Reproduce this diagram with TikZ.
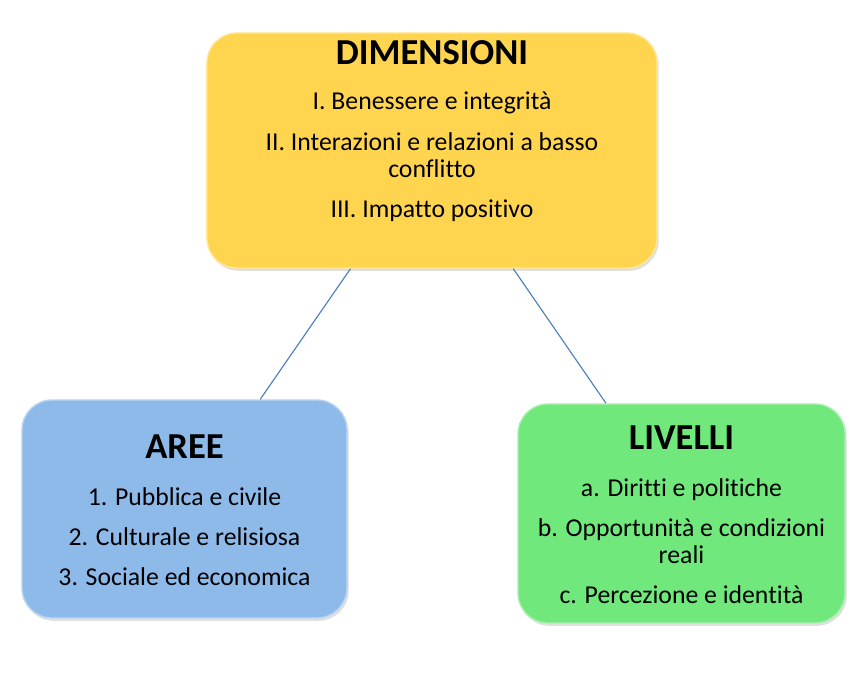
\documentclass[tikz,border=0pt]{standalone}
\usepackage{fontspec}
\setmainfont[Ligatures=NoCommon]{Carlito}
\usetikzlibrary{shadows}
\definecolor{giallo}{RGB}{255,213,80}
\definecolor{azzurro}{RGB}{142,186,234}
\definecolor{verde}{RGB}{112,232,124}
\definecolor{linea}{RGB}{74,126,187}
\tikzset{
	riquadro/.style={rounded corners=0.75cm, inner sep=0pt, line width=1pt, drop shadow={opacity=0.25, shadow xshift=0.4mm, shadow yshift=-0.7mm}},
	titolo/.style={font=\fontsize{26}{30}\selectfont\bfseries, inner sep=0pt},
	voci/.style={font=\fontsize{18.3}{19.5}\selectfont, align=center, inner sep=0pt}
}
\begin{document}
\begin{tikzpicture}[x=0.025cm, y=-0.025cm]
	\useasboundingbox (0,0) rectangle (859,683);
	\node[riquadro, fill=giallo, draw=giallo!60!white, minimum width=11.25cm, minimum height=5.875cm](dim) at (432,150.5){};
	\node[riquadro, fill=azzurro, draw=azzurro!60!white, minimum width=8.125cm, minimum height=5.45cm](aree) at (184.5,509){};
	\node[riquadro, fill=verde, draw=verde!60!white, minimum width=8.175cm, minimum height=5.475cm](liv) at (681.5,513.5){};
	\draw[linea, thick](dim) -- (aree);
	\draw[linea, thick](dim) -- (liv);
	\node[titolo](dimt) at (432,53){DIMENSIONI};
	\node[voci](dimv) at (432,157){I. Benessere e integrità\\[9pt]II. Interazioni e relazioni a basso\\conflitto\\[9pt]III. Impatto positivo};
	\node[titolo](areet) at (184.5,447){AREE};
	\node[voci](areev) at (184.5,536.5){1. Pubblica e civile\\[9pt]2. Culturale e relisiosa\\[9pt]3. Sociale ed economica};
	\node[titolo](livt) at (681.5,438){LIVELLI};
	\node[voci](livv) at (681.5,541){a. Diritti e politiche\\[9pt]b. Opportunità e condizioni\\reali\\[9pt]c. Percezione e identità};
\end{tikzpicture}
\end{document}
